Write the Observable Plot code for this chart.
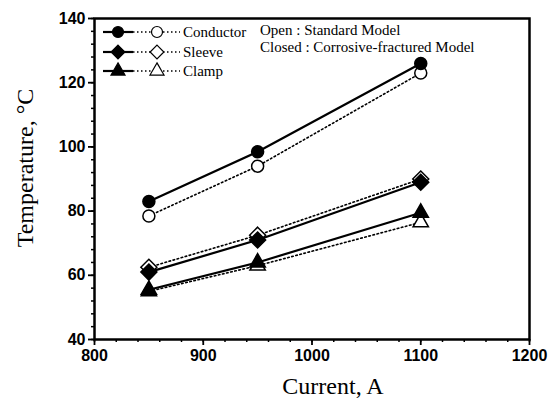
<!DOCTYPE html>
<html><head><meta charset="utf-8">
<script src="https://cdn.jsdelivr.net/npm/d3@7"></script>
<script src="https://cdn.jsdelivr.net/npm/@observablehq/plot@0.6"></script>
<style>
body{margin:0;background:#fff}
#wrap{position:relative;width:553px;height:399px}
#wrap svg.legend{position:absolute;left:0;top:0;pointer-events:none}
</style>
</head><body><div id="wrap"></div>
<script>
// ---- data ----
const currents = [850, 950, 1100];
const conductorClosed = [83, 98.5, 126];
const conductorOpen = [78.5, 94, 123];
const sleeveClosed = [61, 71, 89];
const sleeveOpen = [62.5, 72.5, 90];
const clampClosed = [55.5, 64, 79.5];
const clampOpen = [55, 63, 76.5];
const seriesNames = ["Conductor", "Sleeve", "Clamp"];
const seriesSymbols = ["circle", "diamond2", "triangle"];
const xTicks = [800, 900, 1000, 1100, 1200];
const yTicks = [40, 60, 80, 100, 120, 140];
const noteLines = ["Open : Standard Model", "Closed : Corrosive-fractured Model"];
const xLabel = "Current, A";
const yLabel = "Temperature, \u00B0C";

const closedVals = [conductorClosed, sleeveClosed, clampClosed];
const openVals = [conductorOpen, sleeveOpen, clampOpen];
const symR = {circle: 6, diamond2: 7.2, triangle: 5.7};

const rows = [];
seriesNames.forEach((name, k) => {
  currents.forEach((c, i) => {
    rows.push({current: c, temp: closedVals[k][i], series: name, model: "closed", symbol: seriesSymbols[k]});
    rows.push({current: c, temp: openVals[k][i], series: name, model: "open", symbol: seriesSymbols[k]});
  });
});
const openRows = rows.filter(d => d.model === "open");
const closedRows = rows.filter(d => d.model === "closed");

const serif = "Liberation Serif, Times New Roman, serif";
const sans = "Liberation Sans, Arial, sans-serif";

const dotMarks = [];
for (const model of ["open", "closed"]) {
  seriesSymbols.forEach((sym, k) => {
    dotMarks.push(Plot.dot(rows.filter(d => d.model === model && d.series === seriesNames[k]), {
      x: "current", y: "temp", symbol: sym, r: symR[sym],
      fill: model === "open" ? "white" : "black",
      stroke: "black", strokeWidth: 1.5
    }));
  });
}

const chart = Plot.plot({
  width: 553, height: 399,
  marginLeft: 94, marginRight: 24, marginTop: 18, marginBottom: 60,
  style: {fontFamily: sans, fontSize: "16px", fontWeight: "bold", color: "black", background: "white", overflow: "visible"},
  x: {domain: [800, 1200], label: null},
  y: {domain: [40, 140], label: null},
  marks: [
    Plot.axisX(d3.range(800, 1201, 20), {tickSize: 3, tickFormat: () => "", strokeWidth: 1.5, label: null}),
    Plot.axisY(d3.range(40, 141, 4), {tickSize: 3, tickFormat: () => "", strokeWidth: 1.5, label: null}),
    Plot.axisX(xTicks, {tickSize: 6, tickPadding: 4, tickFormat: d => String(d), strokeWidth: 1.8,
      fontSize: 16, fontWeight: "bold", fontFamily: sans, label: null}),
    Plot.axisY(yTicks, {tickSize: 6, tickPadding: 3, tickFormat: d => String(d), strokeWidth: 1.8,
      fontSize: 16, fontWeight: "bold", fontFamily: sans, label: null}),
    Plot.frame({stroke: "black", strokeWidth: 2.5}),
    Plot.line(openRows, {x: "current", y: "temp", z: "series", stroke: "black", strokeWidth: 1.6, strokeDasharray: "1.6,2.6"}),
    Plot.line(closedRows, {x: "current", y: "temp", z: "series", stroke: "black", strokeWidth: 2.2}),
    ...dotMarks,
    Plot.text([xLabel], {text: d => d, frameAnchor: "bottom", dx: 21, dy: 54, lineAnchor: "bottom",
      fontFamily: serif, fontSize: 24, fontWeight: "normal"}),
    Plot.text([yLabel], {text: d => d, frameAnchor: "left", rotate: -90, dx: -69, dy: -11,
      textAnchor: "middle", lineAnchor: "middle", fontFamily: serif, fontSize: 24, fontWeight: "normal"})
  ]
});
const wrap = document.getElementById("wrap");
wrap.appendChild(chart);

// ---- legend overlay ----
const leg = d3.select(wrap).append("svg").attr("class", "legend")
  .attr("width", 553).attr("height", 399);
const rowY = [32, 52, 71];
const legSize = {circle: 5.5, diamond2: 6.2, triangle: 5.2};
const symFn = {circle: d3.symbolCircle, diamond2: d3.symbolDiamond2, triangle: d3.symbolTriangle};
seriesNames.forEach((name, k) => {
  const y = rowY[k], sym = seriesSymbols[k];
  const g = leg.append("g").attr("transform", `translate(0,${y})`);
  g.append("line").attr("x1", 103).attr("x2", 133).attr("stroke", "black").attr("stroke-width", 2.2);
  g.append("line").attr("x1", 133).attr("x2", 151).attr("stroke", "black").attr("stroke-width", 1.5).attr("stroke-dasharray", "1.5,2.5");
  g.append("line").attr("x1", 163).attr("x2", 180).attr("stroke", "black").attr("stroke-width", 1.5).attr("stroke-dasharray", "1.5,2.5");
  const r = legSize[sym];
  const path = d3.symbol(symFn[sym], Math.PI * r * r)();
  g.append("path").attr("d", path).attr("transform", "translate(118,0)").attr("fill", "black").attr("stroke", "black").attr("stroke-width", 1.2);
  g.append("path").attr("d", path).attr("transform", "translate(157,0)").attr("fill", "white").attr("stroke", "black").attr("stroke-width", 1.2);
  g.append("text").attr("x", 183).attr("dy", "0.35em").attr("font-family", serif).attr("font-size", 15).text(name);
});
noteLines.forEach((t, i) => {
  leg.append("text").attr("x", 260).attr("y", [30, 47][i]).attr("dy", "0.35em")
    .attr("font-family", serif).attr("font-size", 15).text(t);
});
</script>
</body></html>
